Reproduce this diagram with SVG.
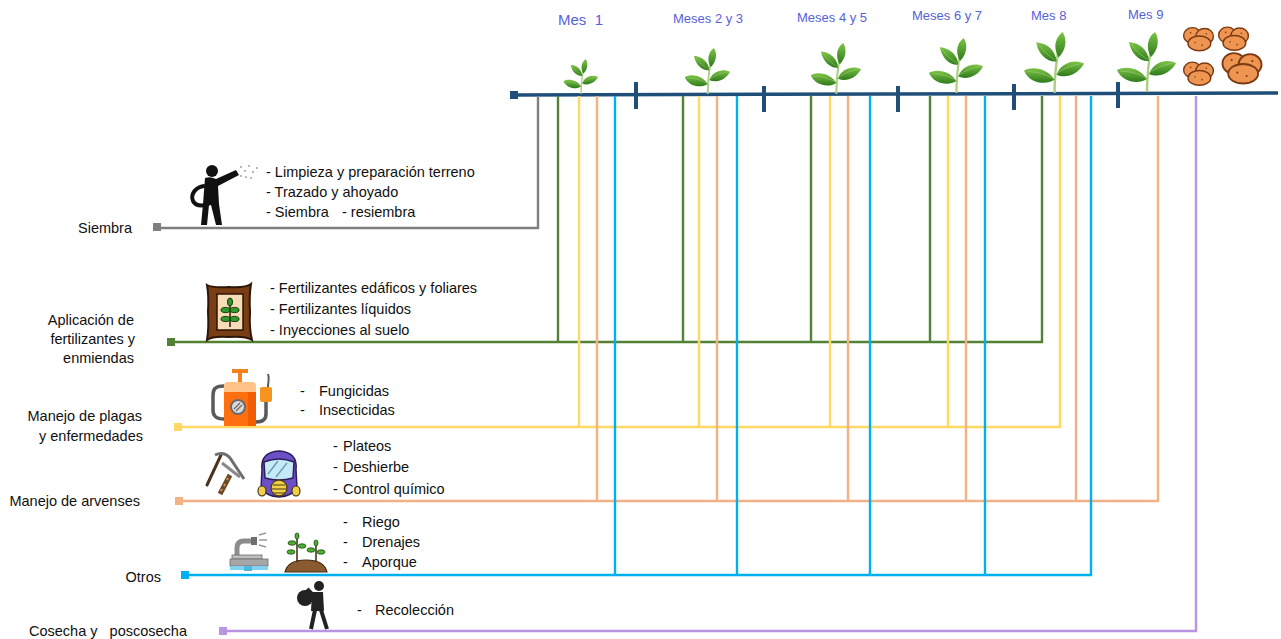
<svg xmlns="http://www.w3.org/2000/svg" width="1281" height="639" viewBox="0 0 1281 639">
  <defs>
    <style>
      .lbl{font-family:"Liberation Sans",Arial,sans-serif;font-size:14.5px;fill:#111}
      .mes{font-family:"Liberation Sans",Arial,sans-serif;font-size:13px;fill:#5663d6}
      .ln{fill:none;stroke-width:2.4;stroke-linejoin:miter}
      .c-gray{stroke:#7f7f7f}
      .c-green{stroke:#548235}
      .c-yellow{stroke:#ffd966}
      .c-orange{stroke:#f4b183}
      .c-blue{stroke:#00b0f0}
      .c-purple{stroke:#b894e2}
      .tick{stroke:#1f4e79;stroke-width:4}
      .leaf{fill:url(#leafG)}
    </style>
    <linearGradient id="leafG" x1="0" y1="0" x2="0" y2="1">
      <stop offset="0" stop-color="#7cc446"/>
      <stop offset="1" stop-color="#2f7a1c"/>
    </linearGradient>
    <!-- seedling drawn above each stage of the timeline -->
    <symbol id="plant" viewBox="0 0 60 60">
      <path d="M31,60 C31,48 32,34 35,16" stroke="#a9d07c" stroke-width="2.4" fill="none"/>
      <path class="leaf" d="M35,25 C29,15 32,5 39,0 C44,8 42,18 35,25Z"/>
      <path class="leaf" d="M33,29 C24,30 15,22 13,10 C24,11 32,18 33,29Z"/>
      <path class="leaf" d="M31,47 C24,36 10,33 1,38 C6,50 22,53 31,47Z"/>
      <path class="leaf" d="M33,42 C37,30 51,26 60,31 C54,42 42,46 33,42Z"/>
      <path d="M30,46 C22,41 12,39 4,39 M33,41 C41,35 50,32 58,31 M32,28 C26,24 19,18 15,12" stroke="#a9d07c" stroke-width="0.8" fill="none" opacity="0.7"/>
    </symbol>
    <!-- small cluster of potatoes -->
    <symbol id="spud" viewBox="0 0 40 30">
      <g fill="#ee9552" stroke="#7b3a12" stroke-width="1.6">
        <ellipse cx="13" cy="11" rx="10" ry="9"/>
        <ellipse cx="27" cy="12" rx="10" ry="9"/>
        <ellipse cx="21" cy="20" rx="13" ry="8.5"/>
      </g>
      <g fill="#7b3a12">
        <circle cx="16" cy="19" r="0.9"/><circle cx="24" cy="22" r="0.9"/>
        <circle cx="29" cy="9" r="0.9"/><circle cx="11" cy="8" r="0.9"/>
      </g>
    </symbol>
  </defs>

  <rect width="1281" height="639" fill="#ffffff"/>

  <!-- time axis with month stages -->
  <g id="timeline">
    <path d="M514,95 L1278,93" stroke="#1f4e79" stroke-width="3.5" fill="none"/>
    <rect x="510" y="91" width="8" height="8" fill="#1f4e79"/>
    <line class="tick" x1="636" y1="82" x2="636" y2="109"/>
    <line class="tick" x1="764" y1="86" x2="764" y2="112"/>
    <line class="tick" x1="898" y1="86" x2="898" y2="112"/>
    <line class="tick" x1="1014" y1="84" x2="1014" y2="110"/>
    <line class="tick" x1="1118" y1="82" x2="1118" y2="108"/>
    <text class="mes" x="558" y="25" style="font-size:15px" xml:space="preserve">Mes  1</text>
    <text class="mes" x="673" y="23">Meses 2 y 3</text>
    <text class="mes" x="797" y="22">Meses 4 y 5</text>
    <text class="mes" x="912" y="20">Meses 6 y 7</text>
    <text class="mes" x="1031" y="20">Mes 8</text>
    <text class="mes" x="1128" y="19">Mes 9</text>
    <use href="#plant" x="563" y="59" width="35" height="35"/>
    <use href="#plant" x="684" y="48" width="46" height="46"/>
    <use href="#plant" x="810" y="43" width="51" height="51"/>
    <use href="#plant" x="928" y="38" width="55" height="55"/>
    <use href="#plant" x="1023" y="32" width="61" height="61"/>
    <use href="#plant" x="1116" y="32" width="60" height="60"/>
    <g id="harvest-potatoes">
      <use href="#spud" x="1181" y="24" width="35" height="30"/>
      <use href="#spud" x="1216" y="23" width="35" height="31"/>
      <use href="#spud" x="1181" y="60" width="35" height="27"/>
      <use href="#spud" x="1219" y="49" width="46" height="38"/>
    </g>
  </g>

  <!-- activity lines dropping from each stage -->
  <g id="connectors">
    <path class="ln c-gray" d="M160,228 H538 V96"/>
    <path class="ln c-green" d="M175,342 H1042 V96 M558,96 V342 M683,96 V342 M811,96 V342 M930,96 V342"/>
    <path class="ln c-yellow" d="M182,427 H1060 V96 M579,96 V427 M699,96 V427 M830,96 V427 M948,96 V427"/>
    <path class="ln c-orange" d="M183,501 H1158 V96 M597,96 V501 M717,96 V501 M848,96 V501 M966,96 V501 M1076,96 V501"/>
    <path class="ln c-blue" d="M189,575 H1091 V96 M615,96 V575 M737,96 V575 M870,96 V575 M985,96 V575"/>
    <path class="ln c-purple" d="M227,631 H1196 V96"/>
  </g>

  <!-- Siembra -->
  <g id="siembra">
    <rect x="153" y="223" width="8" height="8" fill="#7f7f7f"/>
    <text class="lbl" x="132" y="233" text-anchor="end">Siembra</text>
    <g fill="#111">
      <circle cx="212" cy="171" r="6"/>
      <path d="M205,178 Q210,176 216,179 L236,170 L239,175 L218,186 L219,204 L222,225 L216,225 L211,205 L209,205 L207,225 L201,225 L203,204 Z"/>
      <path d="M206,186 C196,186 190,194 193,201 C196,207 206,207 212,201" fill="none" stroke="#111" stroke-width="4"/>
    </g>
    <g fill="#a0a0a0">
      <circle cx="241" cy="167" r="1"/><circle cx="245" cy="171" r="1"/><circle cx="249" cy="166" r="1"/>
      <circle cx="253" cy="172" r="1"/><circle cx="257" cy="168" r="1"/><circle cx="246" cy="177" r="1"/>
      <circle cx="241" cy="176" r="1"/><circle cx="251" cy="178" r="1"/>
    </g>
    <text class="lbl" x="266" y="177">- Limpieza y preparación terreno</text>
    <text class="lbl" x="266" y="197">- Trazado y ahoyado</text>
    <text class="lbl" y="217"><tspan x="266">- Siembra</tspan><tspan x="342">- resiembra</tspan></text>
  </g>

  <!-- Aplicación de fertilizantes y enmiendas -->
  <g id="fertilizantes">
    <rect x="167" y="338" width="8" height="8" fill="#548235"/>
    <text class="lbl" text-anchor="end"><tspan x="134" y="325">Aplicación de</tspan><tspan x="135" y="344">fertilizantes y</tspan><tspan x="134" y="363">enmiendas</tspan></text>
    <path d="M207,285 Q212,288 229,287 Q246,288 251,284 Q249,296 250,312 Q249,328 252,340 Q246,336 229,337 Q212,336 207,340 Q209,328 208,312 Q209,296 207,285Z" fill="#7a3e14" stroke="#2e1606" stroke-width="2"/>
    <rect x="217" y="294" width="26" height="36" fill="#f6ddb8" stroke="#2e1606" stroke-width="1.5"/>
    <line x1="230" y1="298" x2="230" y2="327" stroke="#2e1606" stroke-width="1.5"/>
    <g fill="#2f9a2c" stroke="#15340c" stroke-width="1">
      <ellipse cx="230" cy="302" rx="2.5" ry="4"/>
      <ellipse cx="225.5" cy="310" rx="4.5" ry="2.6"/>
      <ellipse cx="234.5" cy="310" rx="4.5" ry="2.6"/>
      <ellipse cx="225.5" cy="319" rx="4.5" ry="2.6"/>
      <ellipse cx="234.5" cy="319" rx="4.5" ry="2.6"/>
    </g>
    <text class="lbl" x="270" y="293">- Fertilizantes edáficos y foliares</text>
    <text class="lbl" x="270" y="314">- Fertilizantes líquidos</text>
    <text class="lbl" x="270" y="335">- Inyecciones al suelo</text>
  </g>

  <!-- Manejo de plagas y enfermedades -->
  <g id="plagas">
    <rect x="174" y="423" width="8" height="8" fill="#ffd966"/>
    <text class="lbl" text-anchor="end"><tspan x="142" y="421">Manejo de plagas</tspan><tspan x="143" y="441">y enfermedades</tspan></text>
    <path d="M224,386 C214,386 213,390 213,396 L213,410 C213,416 216,419 224,419" stroke="#5a5a5a" stroke-width="3.5" fill="none"/>
    <path d="M266,402 L266,414 C266,420 262,422 256,422" stroke="#5a5a5a" stroke-width="3.5" fill="none"/>
    <path d="M268,387 C268,381 270,379 268,374" stroke="#5a5a5a" stroke-width="2" fill="none"/>
    <rect x="232" y="369" width="16" height="4" fill="#f58220"/>
    <rect x="238" y="372" width="4" height="11" fill="#f58220"/>
    <path d="M224,393 V386 Q224,382 228,382 H252 Q256,382 256,386 V393 Z" fill="#ffc38a"/>
    <rect x="224" y="392" width="32" height="34" fill="#ff6f0f"/>
    <rect x="248" y="392" width="8" height="34" fill="#f25c00"/>
    <circle cx="238" cy="407" r="7" fill="#d9d9d9" stroke="#6b6b6b" stroke-width="2"/>
    <path d="M234,409 L240,403 M236,411 L242,405" stroke="#6b6b6b" stroke-width="1.3"/>
    <rect x="260" y="387" width="12" height="15" rx="2" fill="#f7941d"/>
    <text class="lbl" x="300" y="396">-</text>
    <text class="lbl" x="319" y="396">Fungicidas</text>
    <text class="lbl" x="300" y="415">-</text>
    <text class="lbl" x="319" y="415">Insecticidas</text>
  </g>

  <!-- Manejo de arvenses -->
  <g id="arvenses">
    <rect x="175" y="497" width="8" height="8" fill="#f4b183"/>
    <text class="lbl" x="140" y="506" text-anchor="end">Manejo de arvenses</text>
    <path d="M207,485 L221,455" stroke="#4a3420" stroke-width="3" stroke-linecap="round"/>
    <path d="M215,455 Q224,451 230,458 L244,479" stroke="#6e6e6e" stroke-width="3" fill="none"/>
    <path d="M222,463 L240,477" stroke="#8a8a8a" stroke-width="3"/>
    <path d="M220,494 L230,475" stroke="#6b4a2a" stroke-width="5"/>
    <path d="M221,491 L222,489 M224,486 L225,484 M227,480 L228,478" stroke="#d98b4a" stroke-width="2"/>
    <path d="M262,470 Q260,452 279,451 Q298,452 296,470 L297,488 Q292,496 279,497 Q266,496 261,488Z" fill="#6d4fc8" stroke="#2d1f5a" stroke-width="1.5"/>
    <path d="M264,462 Q279,456 294,462 L293,478 Q279,482 265,478Z" fill="#c6e9f7" stroke="#2d1f5a" stroke-width="1.5"/>
    <path d="M268,474 L278,461 M276,477 L287,463" stroke="#6f9fb5" stroke-width="1.5"/>
    <ellipse cx="262" cy="491" rx="4" ry="5" fill="#f2cf4a" stroke="#4a3a10" stroke-width="1.2"/>
    <ellipse cx="296" cy="491" rx="4" ry="5" fill="#f2cf4a" stroke="#4a3a10" stroke-width="1.2"/>
    <ellipse cx="279" cy="488" rx="8" ry="8" fill="#f2cf4a" stroke="#4a3a10" stroke-width="1.3"/>
    <path d="M273,485 H285 M272,489 H286 M273,493 H285" stroke="#4a3a10" stroke-width="1"/>
    <text class="lbl" x="333" y="451">-</text><text class="lbl" x="343" y="451">Plateos</text>
    <text class="lbl" x="333" y="472">-</text><text class="lbl" x="343" y="472">Deshierbe</text>
    <text class="lbl" x="333" y="494">-</text><text class="lbl" x="343" y="494">Control químico</text>
  </g>

  <!-- Otros -->
  <g id="otros">
    <rect x="181" y="571" width="8" height="8" fill="#00b0f0"/>
    <text class="lbl" x="161" y="582" text-anchor="end">Otros</text>
    <path d="M237,558 V548 Q237,541 244,541 H252" stroke="#8c8c8c" stroke-width="5" fill="none"/>
    <rect x="251" y="537" width="6" height="8" fill="#6f6f6f"/>
    <path d="M259,535 L266,533 M259,540 L267,540 M259,545 L266,547" stroke="#999" stroke-width="1.5"/>
    <rect x="232" y="555" width="30" height="4" fill="#bfbfbf" stroke="#6b6b6b" stroke-width="0.8"/>
    <rect x="230" y="559" width="38" height="7" fill="#a6a6a6" stroke="#6b6b6b" stroke-width="0.8"/>
    <rect x="230" y="566" width="38" height="4" fill="#7fd3f0"/>
    <rect x="244" y="566" width="8" height="5" fill="#4fb6dc"/>
    <path d="M285,572 Q288,560 306,560 Q324,560 327,572Z" fill="#8a5a30" stroke="#4a2e14" stroke-width="1.2"/>
    <path d="M297,562 V537 M316,562 V544" stroke="#3b2a14" stroke-width="1.5"/>
    <g fill="#4caf32" stroke="#1f4a12" stroke-width="0.8">
      <ellipse cx="297" cy="536" rx="2" ry="3"/>
      <ellipse cx="292" cy="543" rx="4" ry="2.2"/>
      <ellipse cx="302" cy="546" rx="4" ry="2.2"/>
      <ellipse cx="291" cy="552" rx="4" ry="2.2"/>
      <ellipse cx="316" cy="543" rx="2" ry="3"/>
      <ellipse cx="311" cy="550" rx="4" ry="2.2"/>
      <ellipse cx="321" cy="552" rx="4" ry="2.2"/>
    </g>
    <text class="lbl" x="343" y="527">-</text><text class="lbl" x="362" y="527">Riego</text>
    <text class="lbl" x="343" y="547">-</text><text class="lbl" x="362" y="547">Drenajes</text>
    <text class="lbl" x="343" y="567">-</text><text class="lbl" x="362" y="567">Aporque</text>
  </g>

  <!-- Cosecha y poscosecha -->
  <g id="cosecha">
    <rect x="219" y="627" width="8" height="8" fill="#b894e2"/>
    <text class="lbl" x="29" y="636" xml:space="preserve">Cosecha y   poscosecha</text>
    <g fill="#222">
      <circle cx="305" cy="598" r="8"/>
      <circle cx="319" cy="586" r="5"/>
      <path d="M312,592 L323,592 L324,611 L311,611Z"/>
    </g>
    <path d="M313,595 L307,589 M315,610 L311,629 M321,610 L327,629" stroke="#222" stroke-width="4" fill="none"/>
    <text class="lbl" x="357" y="615">-</text><text class="lbl" x="375" y="615">Recolección</text>
  </g>
</svg>
